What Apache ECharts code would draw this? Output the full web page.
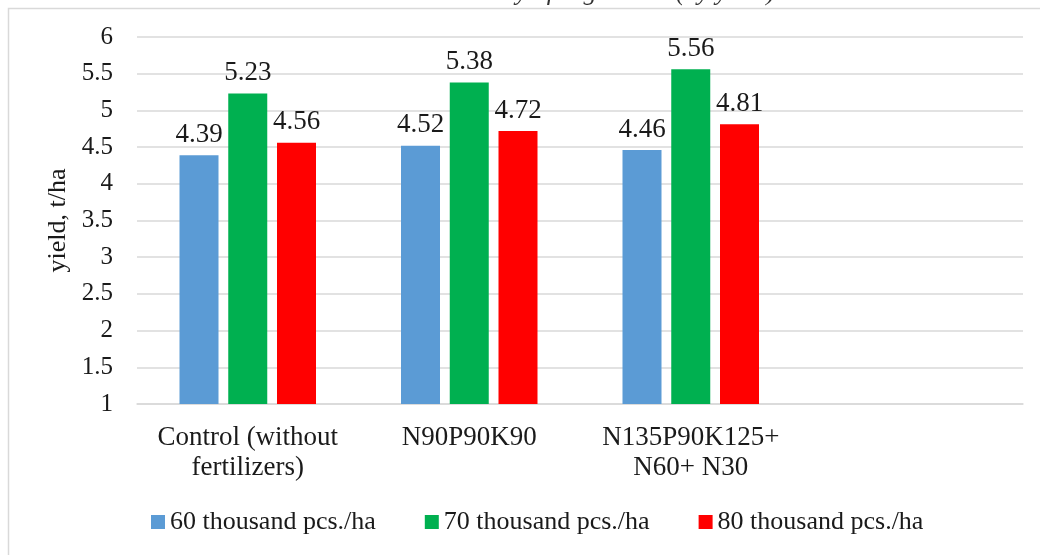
<!DOCTYPE html>
<html>
<head>
<meta charset="utf-8">
<script src="https://cdn.jsdelivr.net/npm/echarts@6/dist/echarts.min.js"></script>
<style>
html,body{margin:0;padding:0;background:#fff;}
#c{width:1040px;height:555px;}
</style>
</head>
<body>
<div id="c"></div>
<script>
const categories = ['Control (without\nfertilizers)', 'N90P90K90', 'N135P90K125+\nN60+ N30', ''];
const seriesNames = ['60 thousand pcs./ha', '70 thousand pcs./ha', '80 thousand pcs./ha'];
const s60 = [4.39, 4.52, 4.46];
const s70 = [5.23, 5.38, 5.56];
const s80 = [4.56, 4.72, 4.81];
const yTicks = [1, 1.5, 2, 2.5, 3, 3.5, 4, 4.5, 5, 5.5, 6];
const colors = ['#5b9bd5', '#00b050', '#ff0000'];
const captionText = 'variety of sugar beet (by yield) – Victoria';

const font = 'Liberation Serif, Times New Roman, serif';
const txt = '#1a1a1a';

function mk(name, data, color) {
  return {
    name: name, type: 'bar', data: data,
    itemStyle: { color: color },
    barWidth: 39, barGap: '25%',
    label: {
      show: true, position: 'top', distance: 7,
      fontFamily: font, fontSize: 27, color: txt,
      formatter: p => p.value.toFixed(2)
    }
  };
}

const chart = echarts.init(document.getElementById('c'));
chart.setOption({
  animation: false,
  backgroundColor: '#fff',
  textStyle: { fontFamily: font },
  graphic: [
    { type: 'polyline', shape: { points: [[8.5, 560], [8.5, 8.5], [1045, 8.5]] },
      style: { stroke: '#d9d9d9', lineWidth: 1.5, fill: null } },
    { type: 'text', left: 455, top: -20,
      style: { text: captionText, font: 'italic 26px ' + font, fill: '#333' } }
  ],
  grid: { left: 137, right: 17, top: 37, bottom: 151, containLabel: false },
  legend: {
    left: 146, top: 504, itemWidth: 14, itemHeight: 14, itemGap: 49,
    icon: 'rect',
    textStyle: { fontFamily: font, fontSize: 26, color: txt },
    data: seriesNames
  },
  xAxis: {
    type: 'category', data: categories,
    axisLine: { show: true, lineStyle: { color: '#d9d9d9', width: 1.5 } },
    axisTick: { show: false },
    axisLabel: { fontFamily: font, fontSize: 27, color: txt, margin: 19, lineHeight: 30, interval: 0 }
  },
  yAxis: {
    type: 'value', min: 1, max: 6, interval: 0.5,
    name: 'yield, t/ha', nameLocation: 'middle', nameGap: 66, nameRotate: 90,
    nameTextStyle: { fontFamily: font, fontSize: 26, color: txt },
    axisLine: { show: false }, axisTick: { show: false },
    axisLabel: { fontFamily: font, fontSize: 25, color: txt, margin: 24,
      formatter: v => String(v) },
    splitLine: { lineStyle: { color: '#d9d9d9', width: 1.5 } }
  },
  series: [mk(seriesNames[0], s60, colors[0]), mk(seriesNames[1], s70, colors[1]), mk(seriesNames[2], s80, colors[2])]
});
</script>
</body>
</html>
